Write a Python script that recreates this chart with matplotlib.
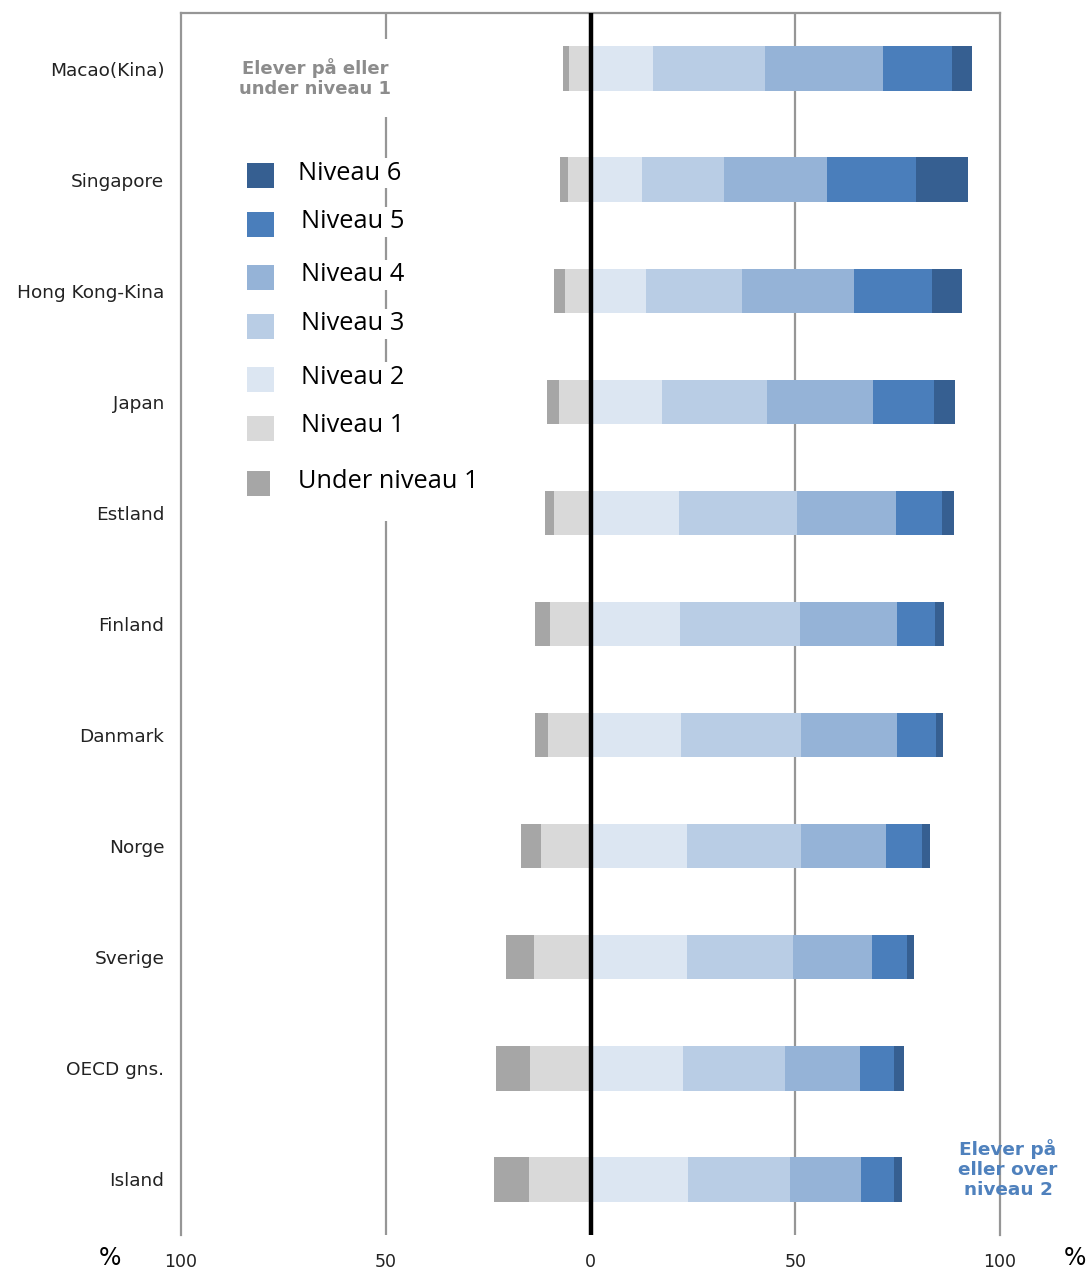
import numpy as np
import matplotlib.pyplot as plt
from matplotlib.patches import Rectangle

lande = ['Macao(Kina)', 'Singapore', 'Hong Kong-Kina', 'Japan', 'Estland',
         'Finland', 'Danmark', 'Norge', 'Sverige', 'OECD gns.', 'Island']

# procent elever pr. niveau
under1 = [1.4, 2.0, 2.7, 2.9, 2.1, 3.6, 3.1, 4.9, 6.9, 8.3, 8.4]
niv1 = [5.2, 5.4, 6.2, 7.7, 8.9, 9.9, 10.4, 12.1, 13.8, 14.8, 15.1]
niv2 = [15.2, 12.6, 13.6, 17.4, 21.6, 21.9, 22.0, 23.6, 23.5, 22.6, 23.8]
niv3 = [27.4, 20.0, 23.5, 25.6, 28.8, 29.2, 29.3, 27.7, 25.9, 24.8, 24.9]
niv4 = [28.8, 25.1, 27.3, 25.9, 24.1, 23.7, 23.5, 20.9, 19.3, 18.5, 17.3]
niv5 = [16.9, 21.7, 18.9, 15.1, 11.4, 9.4, 9.6, 8.7, 8.5, 8.3, 8.0]
niv6 = [4.9, 12.8, 7.5, 5.1, 2.8, 2.1, 1.8, 1.9, 1.8, 2.3, 2.1]

tick_pos = [-100, -50, 0, 50, 100]
tick_txt = ['100', '50', '0', '50', '100']

farver = {
    'Niveau 6': '#365f91',
    'Niveau 5': '#4a7ebb',
    'Niveau 4': '#95b3d7',
    'Niveau 3': '#b9cde5',
    'Niveau 2': '#dce6f2',
    'Niveau 1': '#d9d9d9',
    'Under niveau 1': '#a6a6a6',
}

fig = plt.figure(figsize=(10.88, 12.71), dpi=100)
ax = fig.add_axes([181/1088, 1 - 1235/1271, 819/1088, 1222/1271])

y = np.arange(len(lande))
h = 0.4
u = np.array(under1)
n1 = np.array(niv1)

# venstre side (negativ)
ax.barh(y, -n1, height=h, color=farver['Niveau 1'], zorder=2)
ax.barh(y, -u, left=-n1, height=h, color=farver['Under niveau 1'], zorder=2)

# hoejre side (positiv)
venstre = np.zeros(len(lande))
for navn, vals in [('Niveau 2', niv2), ('Niveau 3', niv3), ('Niveau 4', niv4),
                   ('Niveau 5', niv5), ('Niveau 6', niv6)]:
    ax.barh(y, vals, left=venstre, height=h, color=farver[navn], zorder=2)
    venstre = venstre + np.array(vals)

ax.set_xlim(-100, 100)
ax.set_ylim(len(lande) - 0.5, -0.5)

for x in [-50, 50]:
    ax.axvline(x, color='#969696', lw=1.6, zorder=1)
ax.axvline(0, color='black', lw=3.2, zorder=3)

for s in ['left', 'right', 'top']:
    ax.spines[s].set_color('#969696')
    ax.spines[s].set_linewidth(1.6)
ax.spines['bottom'].set_visible(False)

ax.set_yticks(y)
ax.set_yticklabels(lande, fontsize=13.3, color='#222222')
ax.set_xticks(tick_pos)
ax.set_xticklabels(tick_txt, fontsize=12.5, color='#222222')
ax.tick_params(axis='both', length=0)
ax.tick_params(axis='x', pad=13)
ax.tick_params(axis='y', pad=12)

fig.text(110/1088, 1 - 1258/1271, '%', fontsize=17, ha='center', va='center')
fig.text(1075/1088, 1 - 1258/1271, '%', fontsize=17, ha='center', va='center')

# tekst oeverst til venstre
fig.text(315/1088, 1 - 78/1271, 'Elever på eller\nunder niveau 1', fontsize=13,
         fontweight='bold', color='#8c8c8c', ha='center', va='center',
         linespacing=1.1, zorder=5,
         bbox=dict(facecolor='white', edgecolor='none', pad=14))
fig.text(1008/1088, 1 - 1169/1271, 'Elever på\neller over\nniveau 2', fontsize=13.3,
         fontweight='bold', color='#4f81bd', ha='center', va='center',
         linespacing=1.15, zorder=1)

# forklaring
leg_y = [175, 224, 277, 326, 379, 428, 483]
leg_tx = [298, 301, 301, 301, 301, 301, 298]
leg_pad = [1.5, 1.5, 1.5, 1.5, 1.5, 16, 20]
for (navn, farve), ly, tx, p in zip(farver.items(), leg_y, leg_tx, leg_pad):
    fig.patches.append(Rectangle((247/1088, 1 - (ly + 12.5)/1271), 27/1088, 25/1271,
                                 transform=fig.transFigure, facecolor=farve,
                                 edgecolor='none', zorder=5))
    fig.text(tx/1088, 1 - (ly - 2)/1271, navn, fontsize=18.3, family='Open Sans',
             ha='left', va='center', zorder=5,
             bbox=dict(facecolor='white', edgecolor='none', pad=p))

plt.savefig('out.png', dpi=100)
